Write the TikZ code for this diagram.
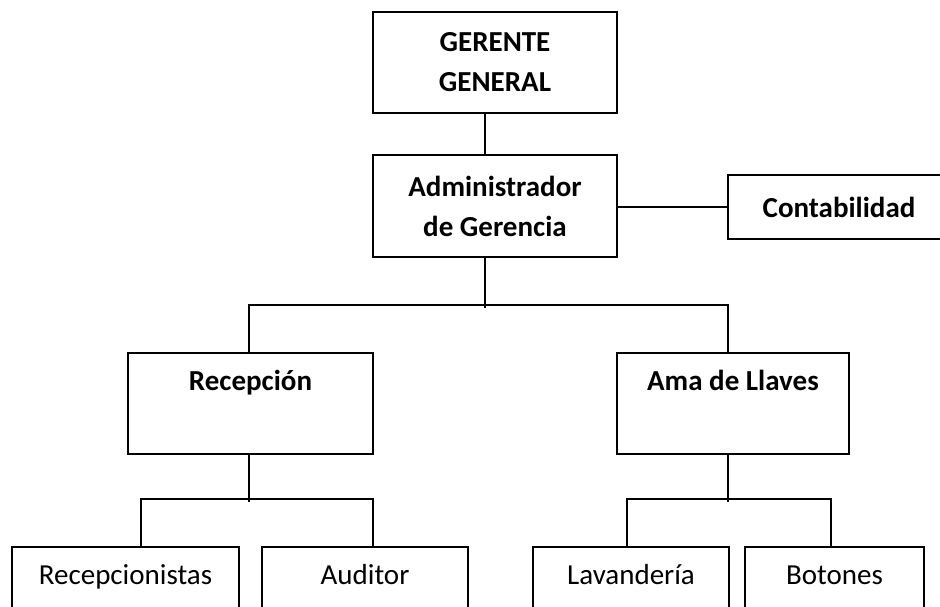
\documentclass[tikz,border=0pt]{standalone}
\usepackage{fontspec}
\setmainfont{Carlito}
\begin{document}
\begin{tikzpicture}[x=1pt,y=-1pt,
  box/.style={draw, line width=2pt, inner sep=0pt, align=center},
  ln/.style={line width=2pt, line cap=rect},
  toptext/.style={label={[anchor=base, yshift=-38pt, inner sep=0pt, label distance=0pt]north:{#1}}},
  every node/.style={font=\fontsize{29}{40}\selectfont}]
\useasboundingbox (0,0) rectangle (940,607);
\clip (0,0) rectangle (940,607);
% nodes
\node[box, minimum width=244pt, minimum height=101pt, font=\fontsize{29}{40}\selectfont\bfseries] (gg) at (495,62.5) {GERENTE\\GENERAL};
\node[box, minimum width=244pt, minimum height=102pt, font=\fontsize{29}{40}\selectfont\bfseries] (adm) at (495,206) {Administrador\\de Gerencia};
\node[box, minimum width=222pt, minimum height=64pt, font=\fontsize{29}{40}\selectfont\bfseries] (cont) at (839,207) {Contabilidad};
\node[box, minimum width=245pt, minimum height=101pt, toptext={\bfseries Recepción}] (rec) at (250.5,403.5) {};
\node[box, minimum width=232pt, minimum height=101pt, toptext={\bfseries Ama de Llaves}] (ama) at (733,403.5) {};
\node[box, minimum width=227pt, minimum height=100pt, toptext={Recepcionistas}] (rcp) at (125.5,597) {};
\node[box, minimum width=206pt, minimum height=100pt, toptext={Auditor}] (aud) at (365,597) {};
\node[box, minimum width=196pt, minimum height=100pt, toptext={Lavandería}] (lav) at (631,597) {};
\node[box, minimum width=179pt, minimum height=100pt, toptext={Botones}] (bot) at (834.5,597) {};
% connectors
\draw[ln] ([xshift=-10pt]gg.south) -- ([xshift=-10pt]adm.north);
\draw[ln] (cont.west -| adm.east) -- (cont.west);
\draw[ln] ([xshift=-10pt]adm.south) -- ++(0,49);
\draw[ln] ([xshift=-1.5pt]rec.north) -- ++(0,-47) -| ([xshift=-5pt]ama.north);
\draw[ln] ([xshift=-1.5pt]rec.south) -- ++(0,46);
\draw[ln] ([xshift=15.5pt]rcp.north) -- ++(0,-47) -| ([xshift=8pt]aud.north);
\draw[ln] ([xshift=-5pt]ama.south) -- ++(0,46);
\draw[ln] ([xshift=-4pt]lav.north) -- ++(0,-47) -| ([xshift=-3.5pt]bot.north);
\end{tikzpicture}
\end{document}
